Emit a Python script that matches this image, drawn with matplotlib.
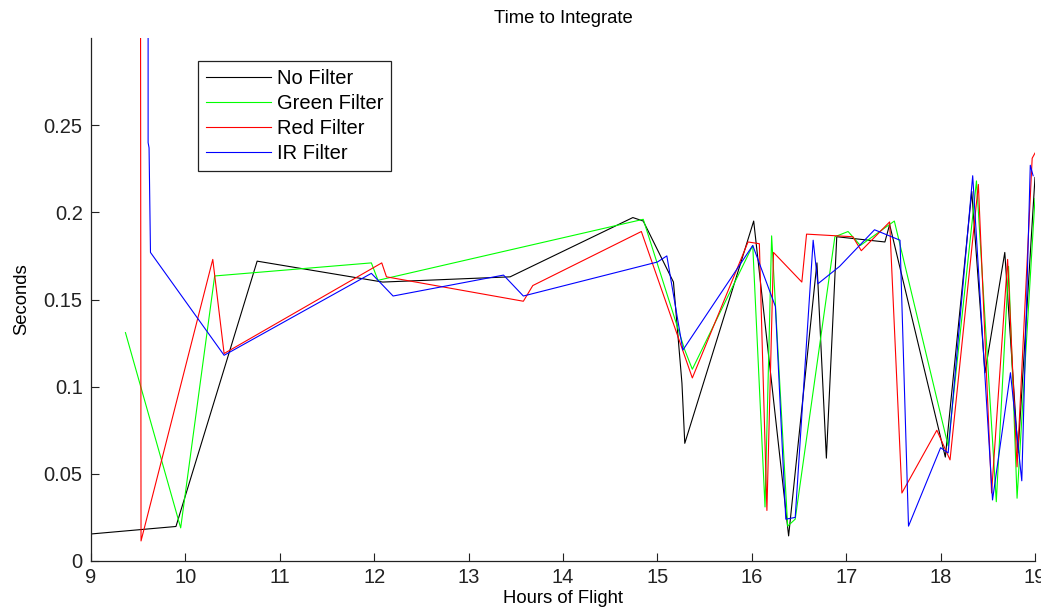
import matplotlib
matplotlib.use("Agg")
import matplotlib.pyplot as plt

plt.rcParams['font.family'] = ['Liberation Sans', 'DejaVu Sans']

# ---- data ----
title = "Time to Integrate"
xlabel = "Hours of Flight"
ylabel = "Seconds"

x_ticks = [9, 10, 11, 12, 13, 14, 15, 16, 17, 18, 19]
x_tick_labels = ["9", "10", "11", "12", "13", "14", "15", "16", "17", "18", "19"]
y_ticks = [0, 0.05, 0.1, 0.15, 0.2, 0.25]
y_tick_labels = ["0", "0.05", "0.1", "0.15", "0.2", "0.25"]

no_x = [9.0, 9.9, 10.76, 12.09, 13.44, 14.74, 14.85, 15.17, 15.26, 15.29, 16.02,
        16.39, 16.69, 16.79, 16.9, 17.41, 17.46, 18.05, 18.33, 18.47, 18.68, 18.82, 19.0]
no_y = [0.0155, 0.0198, 0.172, 0.160, 0.163, 0.197, 0.195, 0.160, 0.102, 0.0675, 0.195,
        0.0144, 0.171, 0.059, 0.186, 0.183, 0.193, 0.0596, 0.212, 0.108, 0.177, 0.062, 0.22]

green_x = [9.365, 9.95, 10.31, 11.97, 12.04, 14.85, 15.29, 15.37, 16.01, 16.14, 16.21,
           16.38, 16.46, 16.88, 17.02, 17.15, 17.51, 18.08, 18.38, 18.59, 18.72, 18.81, 19.0]
green_y = [0.131, 0.019, 0.1635, 0.171, 0.161, 0.196, 0.121, 0.11, 0.181, 0.031, 0.1865,
           0.02, 0.024, 0.186, 0.189, 0.181, 0.195, 0.066, 0.218, 0.034, 0.169, 0.036, 0.208]

red_x = [9.52, 9.53, 10.29, 10.41, 12.08, 12.13, 13.58, 13.68, 14.83, 15.37, 15.96, 16.08,
         16.16, 16.23, 16.53, 16.58, 17.07, 17.16, 17.46, 17.59, 17.96, 18.1, 18.4, 18.54,
         18.71, 18.81, 18.97, 19.0]
red_y = [0.6, 0.0115, 0.173, 0.119, 0.171, 0.163, 0.149, 0.158, 0.189, 0.105, 0.183, 0.182,
         0.029, 0.177, 0.16, 0.1875, 0.186, 0.178, 0.1945, 0.039, 0.075, 0.058, 0.216, 0.039,
         0.173, 0.054, 0.231, 0.234]

ir_x = [9.605, 9.605, 9.615, 9.63, 10.41, 11.97, 12.2, 13.37, 13.58, 15.0, 15.1, 15.27,
        16.01, 16.25, 16.36, 16.46, 16.65, 16.7, 16.93, 17.3, 17.57, 17.66, 18.0, 18.08,
        18.34, 18.55, 18.74, 18.86, 18.95, 18.98]
ir_y = [0.6, 0.24, 0.237, 0.177, 0.118, 0.165, 0.152, 0.164, 0.152, 0.1715, 0.175, 0.121,
        0.181, 0.146, 0.024, 0.025, 0.184, 0.159, 0.169, 0.19, 0.184, 0.020, 0.065, 0.062,
        0.221, 0.035, 0.108, 0.046, 0.227, 0.221]

series_labels = ["No Filter", "Green Filter", "Red Filter", "IR Filter"]
series_colors = ["#000000", "#00ff00", "#ff0000", "#0000ff"]

# ---- figure ----
W, H = 1041, 611
fig = plt.figure(figsize=(W / 100, H / 100), dpi=100)
ax = fig.add_axes([91 / W, 1 - 561 / H, (1035 - 91) / W, (561 - 38) / H])

for xs, ys, lab, col in zip([no_x, green_x, red_x, ir_x], [no_y, green_y, red_y, ir_y],
                            series_labels, series_colors):
    ax.plot(xs, ys, color=col, lw=0.8, label=lab)

ax.set_xlim(9, 19)
ax.set_ylim(0, 0.3)
ax.set_xticks(x_ticks)
ax.set_xticklabels(x_tick_labels)
ax.set_yticks(y_ticks)
ax.set_yticklabels(y_tick_labels)

fs_tick = 14.5
fs_lab = 13.3
fs_leg = 14.5
ax.tick_params(direction='in', length=6, width=0.8, labelsize=fs_tick, pad=5, colors='#222222')
ax.tick_params(axis='y', pad=6)
for s in ['top', 'right']:
    ax.spines[s].set_visible(False)
for s in ['left', 'bottom']:
    ax.spines[s].set_linewidth(0.9)
    ax.spines[s].set_color('#222222')

ax.set_title(title, fontsize=fs_lab, pad=11)
ax.set_xlabel(xlabel, fontsize=fs_lab, labelpad=2)
ax.set_ylabel(ylabel, fontsize=fs_lab, labelpad=10)

leg = ax.legend(loc='upper left', bbox_to_anchor=(198 / W, 1 - 61 / H),
                bbox_transform=fig.transFigure, borderaxespad=0, fontsize=fs_leg,
                handlelength=3.2, handletextpad=0.3, labelspacing=0.3,
                borderpad=0.4, fancybox=False, framealpha=1)
leg.get_frame().set_edgecolor('#222222')
leg.get_frame().set_linewidth(0.9)

fig.savefig("out.png", dpi=100)
